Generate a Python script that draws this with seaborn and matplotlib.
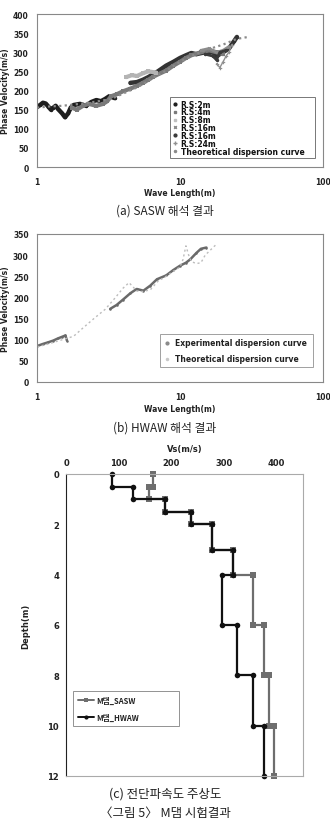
import numpy as np
import pandas as pd
import seaborn as sns
import matplotlib
matplotlib.use("Agg")
import matplotlib.pyplot as plt
from matplotlib.lines import Line2D

sns.set_theme(style="white")
plt.rcParams['font.family'] = ['DejaVu Sans', 'Noto Sans CJK KR']

# ---------------- Panel (a) SASW data ----------------
rs2_x = [1.0, 1.05, 1.1, 1.15, 1.2, 1.25, 1.3, 1.35, 1.4, 1.5, 1.57, 1.65, 1.72, 1.8, 2.0, 2.2, 2.4, 2.6, 2.8, 3.0, 3.2, 3.5]
rs2_y = [157, 162, 168, 166, 158, 150, 155, 160, 152, 140, 130, 140, 155, 162, 165, 160, 170, 175, 172, 178, 185, 180]
rs2b_x = [4.5, 5.0, 5.5, 6.0, 7.0, 8.0, 9.0, 10.0, 11.0, 12.0, 13.0, 15.0, 17.0, 18.0, 20.0, 22.0, 24.0, 25.0]
rs2b_y = [220, 222, 228, 235, 250, 265, 275, 285, 292, 298, 295, 300, 300, 290, 300, 310, 330, 340]
rs4_x = [1.75, 1.9, 2.1, 2.3, 2.6, 2.9, 3.1, 3.3, 3.6, 4.0, 4.5, 5.0, 5.5, 6.0, 6.5, 7.0, 8.0, 9.0, 10.0, 11.0, 12.0, 14.0, 16.0, 18.0, 20.0]
rs4_y = [155, 150, 160, 165, 160, 165, 172, 185, 190, 198, 205, 212, 220, 228, 236, 242, 252, 265, 275, 285, 292, 300, 305, 300, 295]
rs8_x = [4.2, 4.6, 5.0, 5.5, 6.0, 6.8]
rs8_y = [235, 240, 238, 245, 250, 247]
rs16a_x = [14.0, 16.0, 18.0, 20.0, 22.0]
rs16a_y = [305, 310, 300, 305, 315]
rs16b_x = [15.0, 17.0, 18.0, 19.0, 21.0]
rs16b_y = [295, 290, 280, 300, 305]
rs24_x = [18.0, 19.0, 20.0, 21.0, 22.0, 23.0]
rs24_y = [270, 260, 275, 290, 300, 320]
theo_a_x = [1.0, 1.2, 1.5, 2.0, 2.5, 3.0, 3.5, 4.0, 5.0, 6.0, 7.0, 8.0, 10.0, 12.0, 15.0, 20.0, 25.0, 30.0]
theo_a_y = [155, 158, 160, 165, 170, 175, 182, 192, 208, 225, 240, 252, 275, 290, 305, 320, 335, 340]
legend_a = ["R.S:2m", "R.S:4m", "R.S:8m", "R.S:16m", "R.S:16m", "R.S:24m", "Theoretical dispersion curve"]

# ---------------- Panel (b) HWAW data ----------------
exp1_x = [1.0, 1.1, 1.2, 1.3, 1.4, 1.5, 1.58, 1.62]
exp1_y = [85, 90, 94, 98, 103, 107, 110, 98]
exp2_x = [3.25, 3.6, 4.0, 4.5, 4.98, 5.55, 6.2, 6.9, 8.0, 9.0, 10.0, 11.0, 11.8, 13.0, 14.0, 15.3]
exp2_y = [173, 182, 195, 210, 220, 216, 228, 243, 252, 265, 275, 282, 290, 305, 315, 318]
theo_b_x = [1.0, 1.2, 1.5, 1.8, 2.1, 2.5, 3.0, 3.5, 4.0, 4.4, 5.0, 5.5, 6.2, 7.0, 8.0, 9.0, 10.0, 10.5, 11.0, 11.5, 12.0, 13.0, 14.0, 15.0, 18.0]
theo_b_y = [83, 90, 100, 108, 128, 150, 172, 198, 222, 235, 215, 214, 218, 238, 250, 262, 272, 290, 322, 300, 285, 280, 282, 300, 326]
legend_b = ["Experimental dispersion curve", "Theoretical dispersion curve"]

# ---------------- Panel (c) Vs profile ----------------
layer_top = [0, 0.5, 1, 1.5, 2, 3, 4, 6, 8, 10]
layer_bot = [0.5, 1, 1.5, 2, 3, 4, 6, 8, 10, 12]
vs_hwaw = [88, 128, 188, 238, 278, 318, 297, 325, 355, 375]
vs_sasw = [166, 158, 188, 238, 278, 318, 355, 375, 385, 395]
series_c = ["M댐_SASW", "M댐_HWAW"]

captions = ["(a) SASW 해석 결과", "(b) HWAW 해석 결과", "(c) 전단파속도 주상도", "〈그림 5〉 M댐 시험결과"]

W, H = 330, 828
fig = plt.figure(figsize=(W / 100, H / 100), dpi=100)
fig.patch.set_facecolor("white")


def ax_rect(l, t, r, b):
    return [l / W, 1 - b / H, (r - l) / W, (b - t) / H]


cjk = ['Noto Sans CJK KR', 'DejaVu Sans']


def style_dispersion(ax, ymax, ystep):
    ax.set_xscale("log")
    ax.set_xlim(1, 100)
    ax.set_ylim(0, ymax)
    ax.set_yticks(np.arange(0, ymax + 1, ystep))
    ax.set_xticks([1, 10, 100])
    ax.set_xticklabels(["1", "10", "100"])
    ax.xaxis.set_minor_locator(matplotlib.ticker.NullLocator())
    for s in ax.spines.values():
        s.set_color("#888888")
        s.set_linewidth(0.8)
    ax.tick_params(axis="x", which="major", length=2, pad=7, direction="in", colors="#888888", labelcolor="#222222", labelsize=5.5)
    ax.tick_params(axis="y", which="major", length=2, pad=4, direction="out", colors="#888888", labelcolor="#222222", labelsize=5.5)
    for lab in ax.get_xticklabels() + ax.get_yticklabels():
        lab.set_fontweight("bold")
    ax.set_xlabel("Wave Length(m)", fontsize=5.5, fontweight="bold", labelpad=2, color="#222222")
    ax.set_ylabel("Phase Velocity(m/s)", fontsize=5.5, fontweight="bold", labelpad=2, color="#222222")


# ---------------- (a) ----------------
ax1 = fig.add_axes(ax_rect(37, 15, 323, 168))
styles_a = [
    (rs2_x, rs2_y, "#1e1e1e", "o", 3.2),
    (rs2b_x, rs2b_y, "#333333", "o", 3.2),
    (rs4_x, rs4_y, "#7a7a7a", "s", 3.0),
    (rs8_x, rs8_y, "#b4b4b4", "s", 3.0),
    (rs16a_x, rs16a_y, "#8c8c8c", "X", 2.0),
    (rs16b_x, rs16b_y, "#3a3a3a", "o", 2.0),
    (rs24_x, rs24_y, "#909090", "P", 1.0),
]
for xs, ys, c, m, lw in styles_a:
    sns.lineplot(x=xs, y=ys, ax=ax1, sort=False, estimator=None, color=c, lw=lw,
                 marker=m, markersize=2.5, markeredgewidth=0, legend=False)
sns.lineplot(x=theo_a_x, y=theo_a_y, ax=ax1, sort=False, estimator=None, color="#8a8a8a",
             lw=1.6, ls=(0, (1, 1.5)), legend=False)
style_dispersion(ax1, 400, 50)
ha = [Line2D([], [], ls="none", marker="o", color="#1e1e1e", ms=2),
      Line2D([], [], ls="none", marker="s", color="#7a7a7a", ms=2),
      Line2D([], [], ls="none", marker="s", color="#c0c0c0", ms=2),
      Line2D([], [], ls="none", marker="x", color="#8c8c8c", ms=2),
      Line2D([], [], ls="none", marker="o", color="#3a3a3a", ms=2),
      Line2D([], [], ls="none", marker="+", color="#909090", ms=2.5),
      Line2D([], [], ls="none", marker="o", color="#8a8a8a", ms=1.5)]
leg1 = ax1.legend(ha, legend_a, loc="lower left", bbox_to_anchor=((170 - 37) / 286, (168 - 159) / 153, (315 - 170) / 286, (159 - 102) / 153),
                  mode="expand", fontsize=5.5, frameon=True, fancybox=False, edgecolor="#555555",
                  borderpad=0.3, labelspacing=-0.15, handlelength=0.8, handletextpad=0.3, borderaxespad=0)
leg1.get_frame().set_linewidth(0.7)
for t in leg1.get_texts():
    t.set_fontweight("bold")
    t.set_color("#111111")

fig.text(165 / W, 1 - 211 / H, captions[0], ha="center", va="center", fontsize=8.5, family=cjk, color="#222222")

# ---------------- (b) ----------------
ax2 = fig.add_axes(ax_rect(37, 235, 323, 383))
for xs, ys in [(exp1_x, exp1_y), (exp2_x, exp2_y)]:
    sns.lineplot(x=xs, y=ys, ax=ax2, sort=False, estimator=None, color="#6a6a6a", lw=1.8,
                 marker="o", markersize=1.8, markeredgewidth=0, legend=False)
sns.lineplot(x=theo_b_x, y=theo_b_y, ax=ax2, sort=False, estimator=None, color="#bcbcbc",
             lw=1.0, ls=(0, (1.5, 2)), legend=False)
style_dispersion(ax2, 350, 50)
hb = [Line2D([], [], ls="none", marker="o", color="#8a8a8a", ms=2),
      Line2D([], [], ls="none", marker="o", color="#c8c8c8", ms=1.5)]
leg2 = ax2.legend(hb, legend_b, loc="lower left", bbox_to_anchor=((160 - 37) / 286, (383 - 368) / 148, (313 - 160) / 286, (368 - 324) / 148),
                  mode="expand", fontsize=5.5, frameon=True, fancybox=False, edgecolor="#888888",
                  borderpad=0.5, labelspacing=0.9, handlelength=0.8, handletextpad=0.6, borderaxespad=0)
leg2.get_frame().set_linewidth(0.7)
for t in leg2.get_texts():
    t.set_fontweight("bold")
    t.set_color("#222222")

fig.text(165 / W, 1 - 428 / H, captions[1], ha="center", va="center", fontsize=8.5, family=cjk, color="#222222")

# ---------------- (c) ----------------
rows = []
for name, vs in [(series_c[0], vs_sasw), (series_c[1], vs_hwaw)]:
    order = 0
    for v, t, b in zip(vs, layer_top, layer_bot):
        rows.append(dict(series=name, vs=v, depth=t, order=order)); order += 1
        rows.append(dict(series=name, vs=v, depth=b, order=order)); order += 1
dfc = pd.DataFrame(rows)

ax3 = fig.add_axes(ax_rect(66, 475, 303, 777))
sns.lineplot(data=dfc, x="vs", y="depth", hue="series", style="series", ax=ax3,
             sort=False, estimator=None, orient="y",
             palette={series_c[0]: "#6e6e6e", series_c[1]: "#111111"},
             markers={series_c[0]: "s", series_c[1]: "o"}, dashes=False,
             lw=1.6, markersize=4, markeredgewidth=0)
for ln in ax3.get_lines():
    ln.set_clip_on(False)
ax3.set_xlim(0, 450)
ax3.set_ylim(12, 0)
ax3.set_xticks([0, 100, 200, 300, 400])
ax3.set_yticks([0, 2, 4, 6, 8, 10, 12])
ax3.xaxis.tick_top()
ax3.xaxis.set_label_position("top")
ax3.tick_params(axis="both", length=0, labelsize=6, pad=5, labelcolor="#222222")
for lab in ax3.get_xticklabels() + ax3.get_yticklabels():
    lab.set_fontweight("bold")
for k, s in ax3.spines.items():
    s.set_color("#aaaaaa")
    s.set_linewidth(0.8)
ax3.spines["left"].set_color("#222222")
ax3.set_xlabel("Vs(m/s)", fontsize=6, fontweight="bold", labelpad=5, color="#222222")
ax3.set_ylabel("Depth(m)", fontsize=6, fontweight="bold", labelpad=12, color="#222222")

hc = [Line2D([], [], color="#6e6e6e", lw=1.4, marker="s", ms=3.5, mew=0),
      Line2D([], [], color="#111111", lw=1.4, marker="o", ms=3, mew=0)]
leg3 = ax3.legend(hc, series_c, loc="lower left",
                  bbox_to_anchor=((73 - 66) / 237, (777 - 727) / 302, (179 - 73) / 237, (727 - 688) / 302),
                  mode="expand", prop=dict(family=cjk, size=5.5, weight="bold"), frameon=True, fancybox=False,
                  edgecolor="#777777", borderpad=0.6, labelspacing=1.0, handlelength=2.2, handletextpad=0.2,
                  borderaxespad=0)
leg3.get_frame().set_linewidth(0.7)
for t in leg3.get_texts():
    t.set_color("#222222")

fig.text(165 / W, 1 - 794 / H, captions[2], ha="center", va="center", fontsize=9, family=cjk, color="#222222")
fig.text(165 / W, 1 - 813 / H, captions[3], ha="center", va="center", fontsize=9, family=cjk, color="#222222")

fig.savefig("out.png", dpi=100, facecolor="white")
